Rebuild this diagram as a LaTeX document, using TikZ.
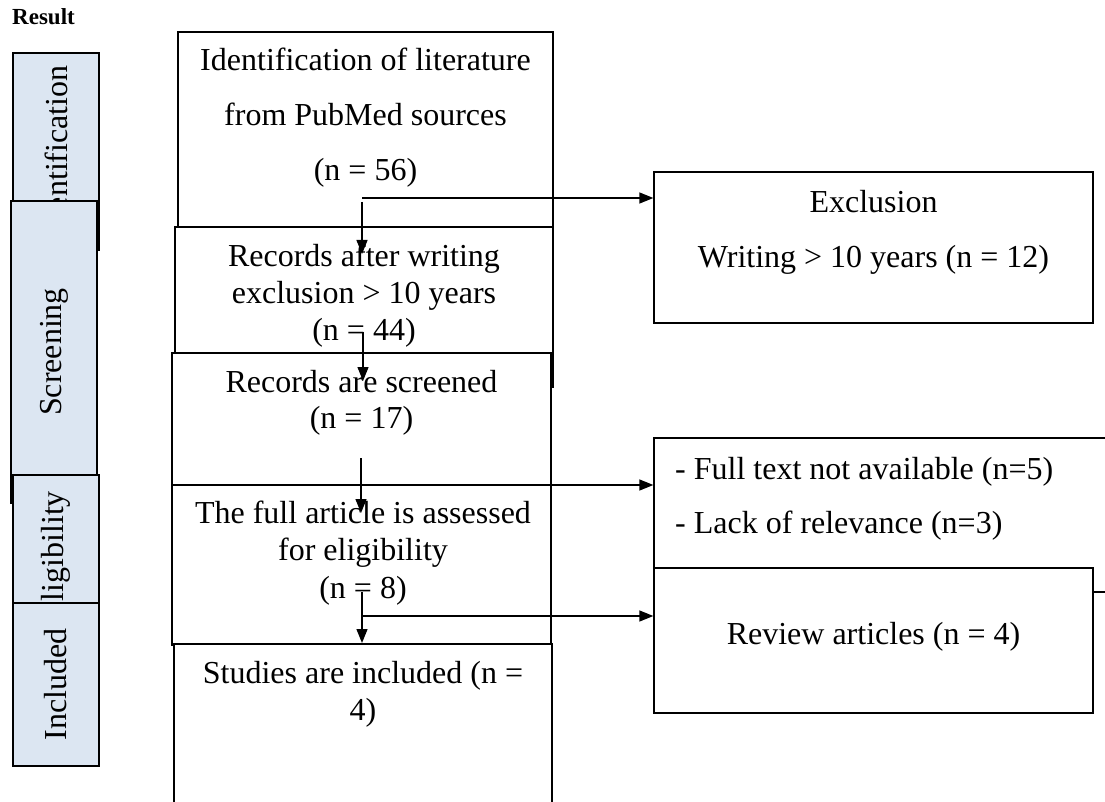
\documentclass[tikz,border=0pt]{standalone}
\usepackage{fontspec}
\setmainfont{Liberation Serif}
\usetikzlibrary{arrows.meta}
\definecolor{lblue}{RGB}{220,230,242}
\begin{document}
\begin{tikzpicture}[x=1pt,y=-1pt,
  bx/.style={draw=black, fill=white, line width=1.3pt, inner sep=0pt, rectangle},
  lbox/.style={draw=black, fill=lblue, line width=1.4pt, inner sep=0pt, rectangle, rotate=90, font=\fontsize{32}{38}\selectfont},
  txt/.style={inner sep=0pt, font=\fontsize{32}{38}\selectfont},
  arr/.style={line width=1.3pt, -{Triangle[length=14pt,width=11pt]}}]
\useasboundingbox (0,0) rectangle (1105,802);
\clip (0,0) rectangle (1105,802);

% title
\node[inner sep=0pt, anchor=base west, font=\fontsize{23}{27}\selectfont\bfseries] (res) at (12,25) {Result};

% left stage boxes
\node[lbox, minimum width=197pt, minimum height=86pt] (lid) at (56,151.5) {Identification};
\node[lbox, minimum width=302pt, minimum height=86pt] (lsc) at (54,352) {Screening};
\node[lbox, minimum width=162pt, minimum height=86pt] (lel) at (56,556) {Eligibility};
\node[lbox, minimum width=163pt, minimum height=86pt] (lin) at (56,684.5) {Included};

% main column boxes
\node[bx, minimum width=375pt, minimum height=210pt] (b1) at (365.5,137) {};
\node[txt, anchor=base] (t1a) at (365.5,71) {Identification of literature};
\node[txt, anchor=base] (t1b) at (365.5,126) {from PubMed sources};
\node[txt, anchor=base] (t1c) at (365.5,181) {(n = 56)};

\node[bx, minimum width=378pt, minimum height=160pt] (b2) at (364,307) {};
\node[txt, anchor=base] (t2a) at (364,267) {Records after writing};
\node[txt, anchor=base] (t2b) at (364,303) {exclusion > 10 years};
\node[txt, anchor=base] (t2c) at (364,340) {(n = 44)};

\node[bx, minimum width=379pt, minimum height=140pt] (b3) at (361.5,423) {};
\node[txt, anchor=base] (t3a) at (361.5,392) {Records are screened};
\node[txt, anchor=base] (t3b) at (361.5,428) {(n = 17)};

\node[bx, minimum width=379pt, minimum height=160pt] (b4) at (361.5,565) {};
\node[txt, anchor=base] (t4a) at (363,523) {The full article is assessed};
\node[txt, anchor=base] (t4b) at (363,560) {for eligibility};
\node[txt, anchor=base] (t4c) at (363,598) {(n = 8)};

\node[bx, minimum width=378pt, minimum height=200pt] (b5) at (363,744) {};
\node[txt, anchor=base] (t5a) at (363,683) {Studies are included (n =};
\node[txt, anchor=base] (t5b) at (363,720) {4)};

% right column boxes
\node[bx, minimum width=439pt, minimum height=151pt] (ex) at (873.5,247.5) {};
\node[txt, anchor=base] (tea) at (873.5,213) {Exclusion};
\node[txt, anchor=base] (teb) at (873.5,268) {Writing > 10 years (n = 12)};

\node[bx, minimum width=480pt, minimum height=154pt] (ft) at (894,515) {};
\node[txt, anchor=base west] (tfa) at (675,479) {- Full text not available (n=5)};
\node[txt, anchor=base west] (tfb) at (675,533) {- Lack of relevance (n=3)};

\node[bx, minimum width=439pt, minimum height=145pt] (rv) at (873.5,640.5) {};
\node[txt, anchor=base] (trv) at (873.5,644) {Review articles (n = 4)};

% connectors
\coordinate (h1) at (362,198);
\coordinate (v1s) at (362,202);
\coordinate (v1e) at (362,254);
\draw[arr] (h1) -- (h1 -| ex.west);
\draw[arr] (v1s) -- (v1e);

\coordinate (v2s) at (363,332);
\coordinate (v2e) at (363,381);
\draw[arr] (v2s) -- (v2e);

\coordinate (h3) at (361,485);
\coordinate (v3s) at (361,458);
\coordinate (v3e) at (361,513);
\draw[arr] (h3) -- (h3 -| ft.west);
\draw[arr] (v3s) -- (v3e);

\coordinate (h4) at (362,616);
\coordinate (v4s) at (362,592);
\coordinate (v4e) at (362,643);
\draw[arr] (h4) -- (h4 -| rv.west);
\draw[arr] (v4s) -- (v4e);
\end{tikzpicture}
\end{document}
